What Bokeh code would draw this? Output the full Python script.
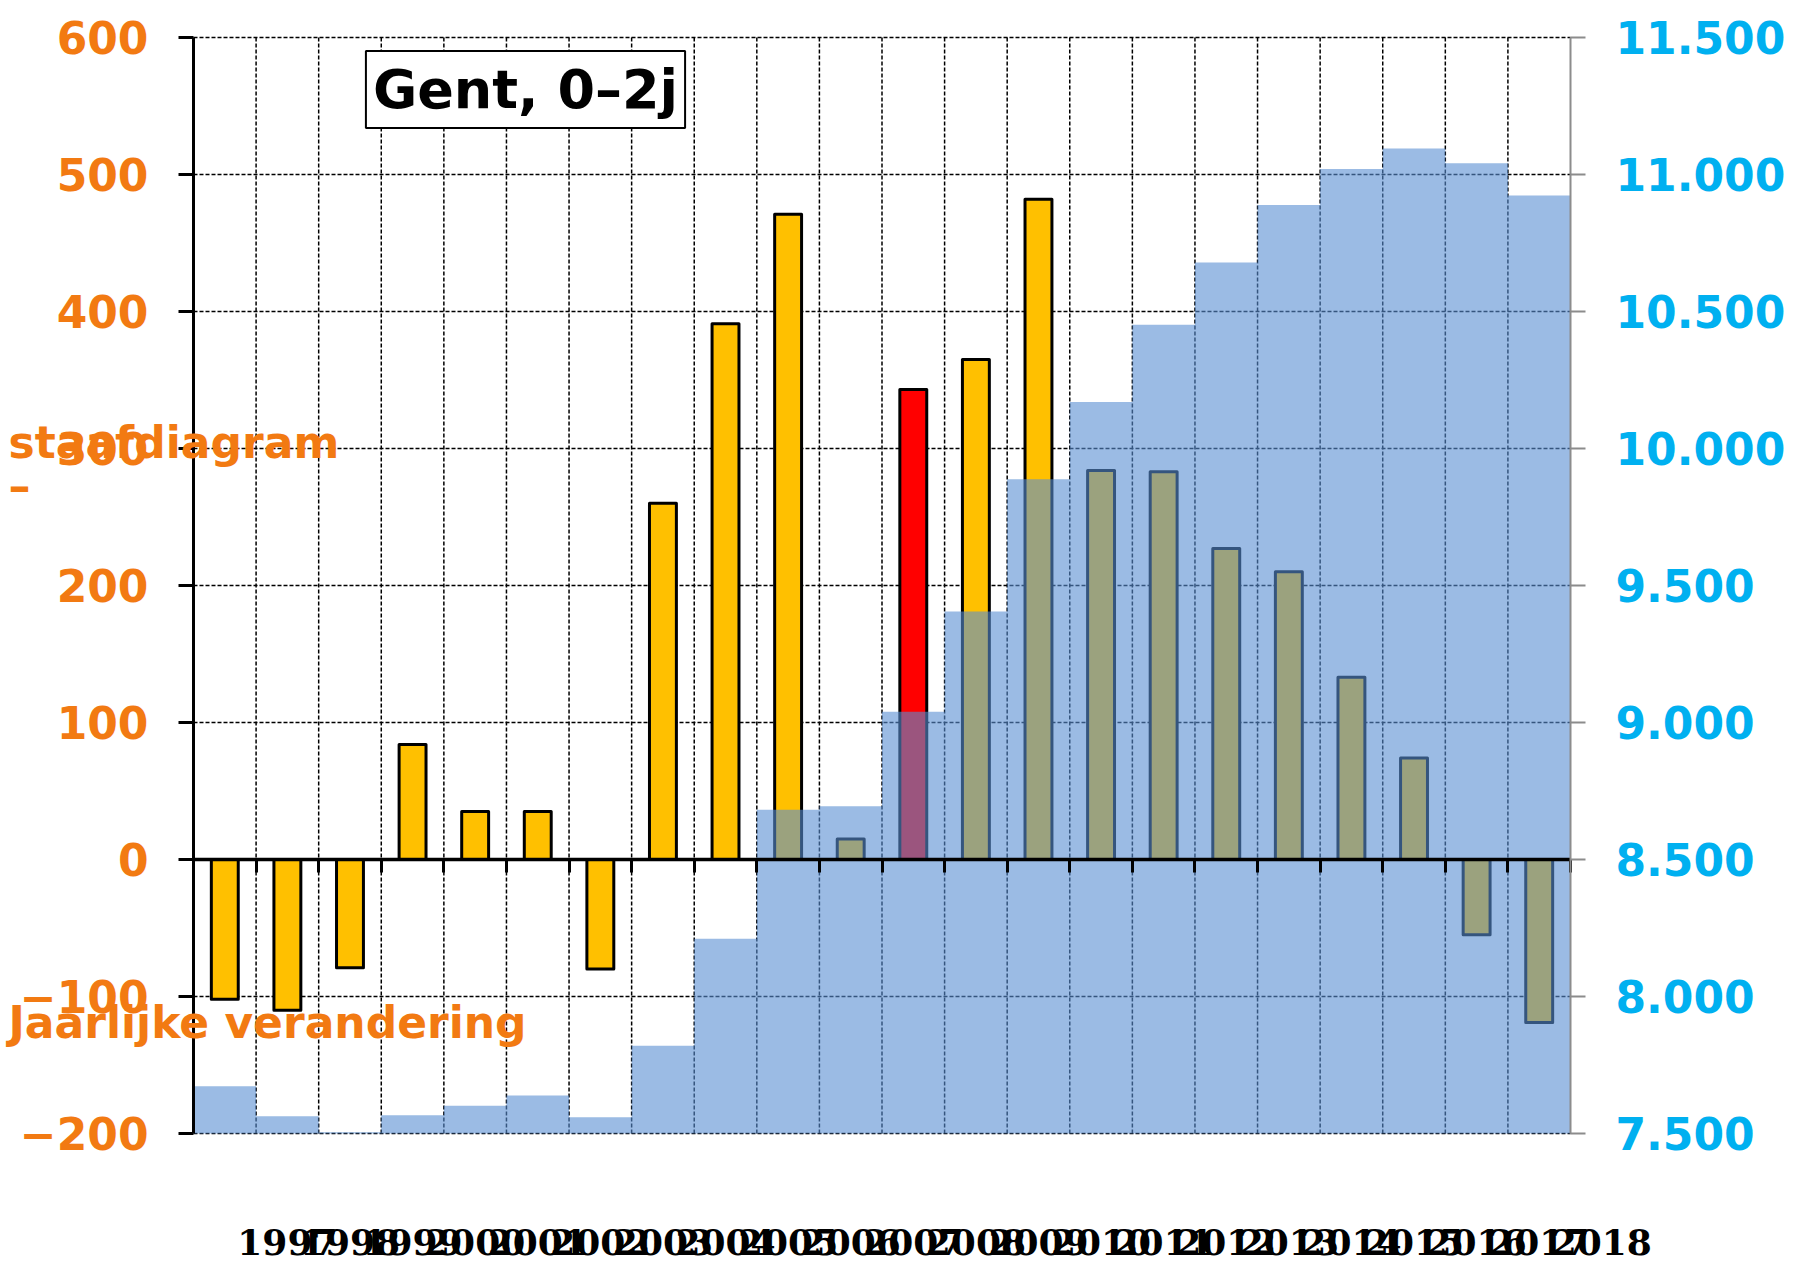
from bokeh.plotting import figure
from bokeh.models import (Range1d, LinearAxis, FixedTicker, Label,
                          ColumnDataSource)
from bokeh.embed import file_html
from bokeh.resources import INLINE

# ---------------- data ----------------
year_labels = [str(y) for y in range(1997, 2019)]
changes = [-102, -110, -79, 84, 35, 35, -80, 260, 391, 471, 15,
           343, 365, 482, 284, 283, 227, 210, 133, 74, -55, -119]
population = [7672, 7563, 7505, 7567, 7601, 7639, 7559, 7820, 8211, 8682, 8694,
              9039, 9405, 9888, 10170, 10452, 10679, 10889, 11020, 11095, 11041, 10923]
highlight = [False] * 11 + [True] + [False] * 10
left_ticks = [-200, -100, 0, 100, 200, 300, 400, 500, 600]
right_ticks = [7500, 8000, 8500, 9000, 9500, 10000, 10500, 11000, 11500]
title_text = "Gent, 0–2j"
axis_title_lines = ["staafdiagram", "–", "Jaarlijke verandering"]

# ---------------- styles / layout ----------------
ORANGE = "#F27A12"
CYAN = "#00B0F0"
YELLOW = "#FFC000"
RED = "#FF0000"
BLUE = "#588ED2"
SANS = "DejaVu Sans"
SERIF = "DejaVu Serif"

W, H = 1807, 1269
X0, X1 = 193, 1570      # canvas px of the plot area's left / right edge
YT, YB = 37, 1133       # canvas px of the plot area's top / bottom edge
n = len(changes)
lo, hi = left_ticks[0], left_ticks[-1]
rlo, rhi = right_ticks[0], right_ticks[-1]

sx = (X1 - X0) / n
sy = (YB - YT) / (hi - lo)
sp = (YB - YT) / (rhi - rlo)


def px2x(px):
    return (px - X0) / sx


def px2y(py):
    return hi - (py - YT) / sy


p = figure(width=W, height=H,
           x_range=Range1d(px2x(0), px2x(W)),
           y_range=Range1d(px2y(H), px2y(0)),
           x_axis_location=None, y_axis_location=None,
           output_backend="svg", toolbar_location=None,
           min_border=0, min_border_left=0, min_border_right=0,
           min_border_top=0, min_border_bottom=0)
p.outline_line_color = None
p.background_fill_color = "white"
p.border_fill_color = "white"
p.grid.visible = False
p.extra_y_ranges = {"pop": Range1d(rlo - (H - YB) / sp, rhi + YT / sp)}

# ---- dashed grid lines (behind everything) ----
vx = list(range(1, n))
p.segment(x0=vx, y0=[lo] * len(vx), x1=vx, y1=[hi] * len(vx),
          line_color="black", line_dash="4 2", line_width=1.5, level="underlay")
hy = [t for t in left_ticks if t != 0]
p.segment(x0=[0] * len(hy), y0=hy, x1=[n] * len(hy), y1=hy,
          line_color="black", line_dash="4 2", line_width=1.5, level="underlay")

# ---- bars (yearly change) ----
src = ColumnDataSource(dict(
    x=[i + 0.5 for i in range(n)],
    change=changes,
    color=[RED if h else YELLOW for h in highlight],
))
p.vbar(x="x", top="change", bottom=0, width=0.43, source=src,
       fill_color="color", line_color="black", line_width=3, line_join="round")

# ---- population as a translucent step area ----
px, py = [0], [rlo]
for i, v in enumerate(population):
    px += [i, i + 1]
    py += [v, v]
px.append(n)
py.append(rlo)
p.patch(px, py, y_range_name="pop", fill_color=BLUE, fill_alpha=0.6,
        line_color=None)

# ---- left axis ----
ya = LinearAxis(fixed_location=0, bounds=(lo, hi),
                ticker=FixedTicker(ticks=left_ticks))
ya.major_label_overrides = {t: ("−" + str(-t) if t < 0 else str(t)) for t in left_ticks}
ya.axis_line_color = "black"
ya.axis_line_width = 3
ya.major_tick_line_color = "black"
ya.major_tick_line_width = 3
ya.major_tick_out = 15
ya.major_tick_in = 0
ya.minor_tick_line_color = None
ya.major_label_text_font = SANS
ya.major_label_text_font_style = "bold"
ya.major_label_text_font_size = "44px"
ya.major_label_text_color = ORANGE
ya.major_label_standoff = 30
p.add_layout(ya, "left")

# ---- right axis ----
ra = LinearAxis(y_range_name="pop", fixed_location=n, bounds=(rlo, rhi),
                ticker=FixedTicker(ticks=right_ticks))
ra.major_label_overrides = {t: f"{t:,}".replace(",", ".") for t in right_ticks}
ra.axis_line_color = "#8C8C8C"
ra.axis_line_width = 2
ra.major_tick_line_color = "#8C8C8C"
ra.major_tick_line_width = 2
ra.major_tick_out = 15
ra.major_tick_in = 0
ra.minor_tick_line_color = None
ra.major_label_text_font = SANS
ra.major_label_text_font_style = "bold"
ra.major_label_text_font_size = "44px"
ra.major_label_text_color = CYAN
ra.major_label_standoff = 30
p.add_layout(ra, "right")

# ---- zero line with category ticks ----
za = LinearAxis(fixed_location=0, bounds=(0, n),
                ticker=FixedTicker(ticks=list(range(0, n + 1))))
za.axis_line_color = "black"
za.axis_line_width = 3.5
za.major_tick_line_color = "black"
za.major_tick_line_width = 3
za.major_tick_out = 13
za.major_tick_in = 0
za.minor_tick_line_color = None
za.major_label_text_font_size = "0px"
za.major_label_text_alpha = 0
p.add_layout(za, "below")

# ---- category labels (shifted one slot to the right, as in the original) ----
lab_ticks = [i + 1.5 for i in range(n)]
xa = LinearAxis(fixed_location=lo, ticker=FixedTicker(ticks=lab_ticks))
xa.major_label_overrides = {t: lab for t, lab in zip(lab_ticks, year_labels)}
xa.axis_line_color = None
xa.major_tick_line_color = None
xa.minor_tick_line_color = None
xa.major_tick_out = 0
xa.major_tick_in = 0
xa.major_label_standoff = 95
xa.major_label_text_font = SERIF
xa.major_label_text_font_style = "bold"
xa.major_label_text_font_size = "36px"
xa.major_label_text_color = "black"
p.add_layout(xa, "below")

# ---- title box ----
p.add_layout(Label(x=px2x(525), y=px2y(89), text=title_text, text_font=SANS,
                   text_font_style="bold", text_font_size="54px",
                   text_color="black", text_align="center",
                   text_baseline="middle", background_fill_color="white",
                   border_line_color="black", border_line_width=2,
                   padding=7))

# ---- broken left-axis title ----
title_baselines = [442, 485, 1022]
for t, by in zip(axis_title_lines, title_baselines):
    p.add_layout(Label(x=px2x(8), y=px2y(by), text=t, text_font=SANS,
                       text_font_style="bold", text_font_size="44px",
                       text_color=ORANGE, text_align="left",
                       text_baseline="alphabetic"))

open("out.html", "w").write(file_html(p, INLINE))
